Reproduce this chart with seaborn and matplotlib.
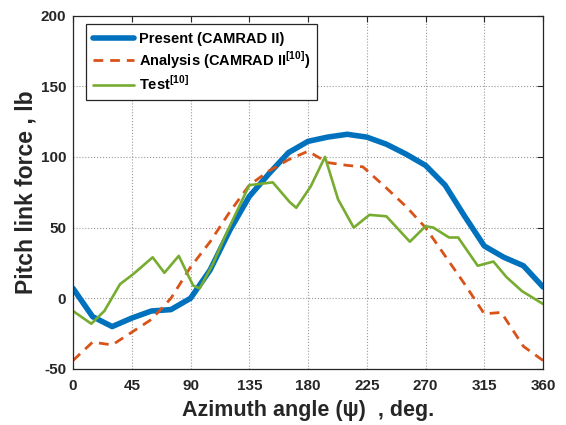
import matplotlib
matplotlib.use("Agg")
import matplotlib.pyplot as plt
import seaborn as sns
import pandas as pd

# Present analysis (CAMRAD II), every 15 deg
present_psi = [0, 15, 30, 45, 60, 75, 90, 105, 120, 135, 150, 165, 180,
               195, 210, 225, 240, 255, 270, 285, 300, 315, 330, 345, 360]
present_force = [7, -13, -20, -14, -9, -8, 0, 20, 48, 72, 88, 103, 111,
                 114, 116, 114, 109, 102, 94, 80, 58, 37, 29, 23, 8]

# Reference analysis (CAMRAD II [10])
analysis_psi = [0, 15, 30, 45, 60, 75, 90, 105, 120, 135, 150, 165, 180,
                195, 210, 222, 240, 255, 270, 285, 300, 315, 328, 345, 360]
analysis_force = [-44, -31, -33, -24, -15, 0, 22, 40, 61, 80, 90, 98, 104,
                  96, 94, 93, 78, 65, 50, 30, 10, -11, -10, -34, -44]

# Flight test [10]
test_psi = [0, 14, 24, 36, 46, 61, 70, 81, 92, 97, 107, 116, 135, 153, 166,
            171, 182, 193, 203, 215, 227, 240, 250, 258, 270, 276, 288, 295,
            310, 322, 332, 344, 360]
test_force = [-9, -18, -9, 10, 17, 29, 18, 30, 9, 7, 24, 43, 80, 82, 68,
              64, 79, 100, 70, 50, 59, 58, 48, 40, 51, 50, 43, 43,
              23, 26, 15, 5, -4]

x_ticks = [0, 45, 90, 135, 180, 225, 270, 315, 360]
y_ticks = [-50, 0, 50, 100, 150, 200]

sns.set_theme(style="white")
plt.rcParams["font.family"] = ["Liberation Sans", "DejaVu Sans"]
plt.rcParams["font.weight"] = "bold"
plt.rcParams["axes.unicode_minus"] = False
plt.rcParams["mathtext.fontset"] = "custom"
plt.rcParams["mathtext.rm"] = "Liberation Sans:bold"
plt.rcParams["mathtext.bf"] = "Liberation Sans:bold"

fig = plt.figure(figsize=(5.66, 4.25), dpi=100)
ax = fig.add_axes([0.129, 0.1318, 0.8304, 0.8317])

ink = "#262626"

df_p = pd.DataFrame({"psi": present_psi, "force": present_force})
df_a = pd.DataFrame({"psi": analysis_psi, "force": analysis_force})
df_t = pd.DataFrame({"psi": test_psi, "force": test_force})

sns.lineplot(data=df_p, x="psi", y="force", ax=ax, color="#0072BD",
             linewidth=4.0, label="Present (CAMRAD II)", sort=False)
sns.lineplot(data=df_a, x="psi", y="force", ax=ax, color="#D95319",
             linewidth=2.0, label=r"Analysis (CAMRAD II$^{\mathbf{[10]}}$)",
             sort=False)
ax.lines[-1].set_dashes([3.5, 2.5])
sns.lineplot(data=df_t, x="psi", y="force", ax=ax, color="#77AC30",
             linewidth=1.9, label=r"Test$^{\mathbf{[10]}}$", sort=False)

ax.set_xlim(0, 360)
ax.set_ylim(-50, 200)
ax.set_xticks(x_ticks)
ax.set_yticks(y_ticks)
ax.tick_params(axis="both", which="both", direction="in", top=True, right=True,
               length=4, width=0.8, colors=ink, labelsize=11)
ax.tick_params(axis="x", pad=7)
ax.tick_params(axis="y", pad=5)
for lab in ax.get_xticklabels() + ax.get_yticklabels():
    lab.set_fontweight("bold")

ax.grid(True, linestyle=":", color="#9a9a9a", linewidth=0.8)
for s in ax.spines.values():
    s.set_color(ink)
    s.set_linewidth(0.9)

ax.set_xlabel("Azimuth angle (\u03c8)  , deg.", fontsize=15.5, fontweight="bold",
              color=ink, labelpad=5)
ax.set_ylabel("Pitch link force , lb", fontsize=16.5, fontweight="bold",
              color=ink, labelpad=2)

leg = ax.legend(loc="upper left", bbox_to_anchor=(0.028, 0.975), fontsize=10.5,
                handlelength=2.8, handletextpad=0.3, labelspacing=0.25,
                borderpad=0.5, borderaxespad=0.0, fancybox=False,
                framealpha=1.0, edgecolor=ink)
leg.get_frame().set_linewidth(0.9)
for t in leg.get_texts():
    t.set_fontweight("bold")
    t.set_color("black")

fig.savefig("out.png", dpi=100)
